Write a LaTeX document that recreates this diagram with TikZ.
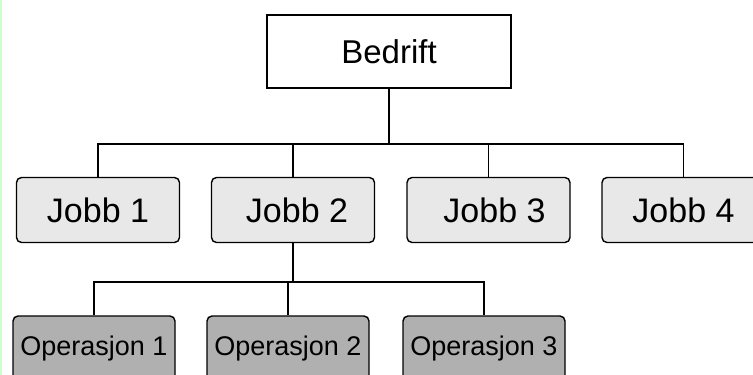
\documentclass[tikz,border=0pt]{standalone}
\usepackage{fontspec}
\setmainfont{Liberation Sans}
\usepackage{tikz}
\usetikzlibrary{positioning,calc}

\tikzset{
  topbox/.style={draw, line width=1.4pt, fill=white, minimum width=244pt, minimum height=73pt, inner sep=0pt, font=\fontsize{33}{36}\selectfont},
  jobbox/.style={draw, line width=1.4pt, rounded corners=5pt, fill=gray!18, minimum width=163pt, minimum height=65pt, inner sep=0pt, font=\fontsize{34}{38}\selectfont},
  opbox/.style={draw, line width=1.4pt, rounded corners=5pt, fill=gray!62, minimum width=162pt, minimum height=65pt, inner sep=0pt, font=\fontsize{27}{30}\selectfont},
  link/.style={line width=1.2pt}
}

\begin{document}
\begin{tikzpicture}[x=1pt,y=-1pt]
\useasboundingbox (0,0) rectangle (753,375);
\fill[white] (0,0) rectangle (753,375);
\fill[green!20] (0,0) rectangle (1.5,375);

% Bedrift
\node[topbox] (bedrift) at (389,51.5) {Bedrift};

% Jobb level
\node[jobbox] (jobb1) at (98,210) {Jobb 1};
\node[jobbox] (jobb2) at (293,210) {\hspace{8pt}Jobb 2};
\node[jobbox] (jobb3) at (488.5,210) {\hspace{12pt}Jobb 3};
\node[jobbox] (jobb4) at (683.5,210) {Jobb 4};
\coordinate (bus1) at (bedrift.south |- 0,144);
\draw[link] (bedrift.south) -- (bus1);
\draw[link] (jobb1.north) |- (bus1) -| (jobb4.north);
\draw[link] (jobb2.north) -- (jobb2.north |- bus1);
\draw[link] (jobb3.north) -- (jobb3.north |- bus1);

% Operasjon level
\node[opbox] (op1) at (94,348.5) {Operasjon 1};
\node[opbox] (op2) at (288,348.5) {Operasjon 2};
\node[opbox] (op3) at (484,348.5) {Operasjon 3};
\coordinate (bus2) at (jobb2.south |- 0,282);
\draw[link] (jobb2.south) -- (bus2);
\draw[link] (op1.north) |- (bus2) -| (op3.north);
\draw[link] (op2.north) -- (op2.north |- bus2);
\end{tikzpicture}
\end{document}
